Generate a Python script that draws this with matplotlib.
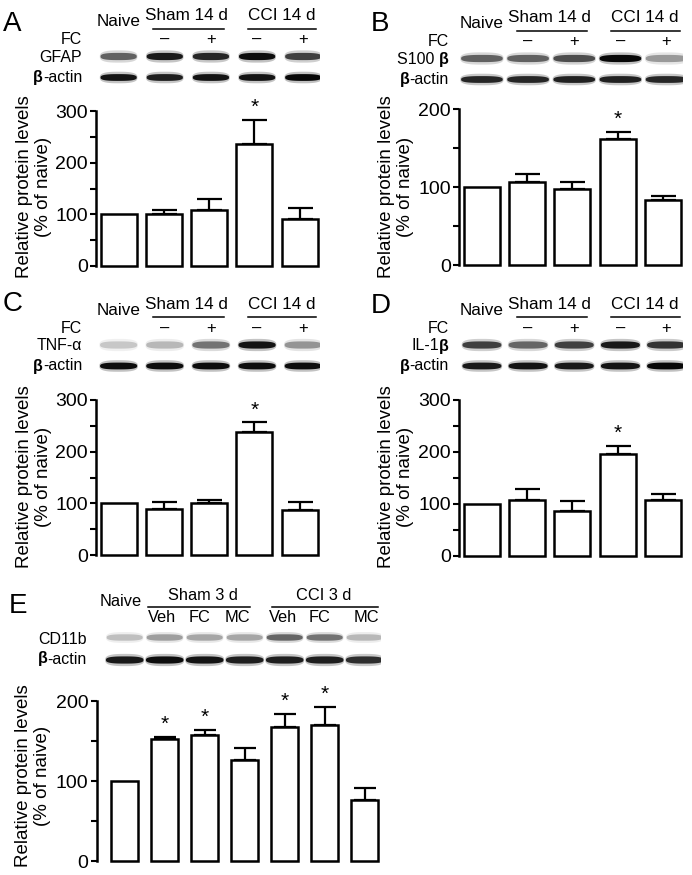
import numpy as np
import matplotlib
matplotlib.use("Agg")
import matplotlib.pyplot as plt
from matplotlib.patches import Polygon
from matplotlib.ticker import MultipleLocator
from matplotlib.transforms import blended_transform_factory

plt.rcParams.update({"font.family": ["Liberation Sans", "DejaVu Sans"], "font.size": 12,
                     "savefig.facecolor": "white"})

W, H = 692, 875

# ---- bar heights (% of naive), error bars drawn upward only
GFAP = [100, 100, 108.5, 236, 91.5]
GFAP_ERR = [0, 8.5, 20.5, 46.5, 20]
S100B = [100, 106.5, 98, 162, 83]
S100B_ERR = [0, 10, 8.5, 8.5, 5]
TNFA = [100, 90, 100, 239, 86.5]
TNFA_ERR = [0, 13, 6.5, 17.5, 15.5]
IL1B = [100, 108, 86, 195, 108]
IL1B_ERR = [0, 20.5, 19, 16, 11]
CD11B = [100, 153, 158, 126, 168, 170.5, 76]
CD11B_ERR = [0, 2.5, 5.5, 15.5, 16, 22, 15.5]
STARS_14D = [3]
STARS_3D = [1, 2, 4, 5]

# ---- blot band darkness per lane (0 blank .. 1 black)
BAND_GFAP = [0.62, 0.9, 0.85, 0.95, 0.75]
BAND_S100B = [0.62, 0.62, 0.7, 0.97, 0.4]
BAND_TNFA = [0.22, 0.28, 0.55, 0.92, 0.42]
BAND_IL1B = [0.75, 0.6, 0.75, 0.9, 0.8]
BAND_CD11B = [0.25, 0.38, 0.35, 0.35, 0.6, 0.55, 0.28]
ACTIN_A = [0.92, 0.88, 0.92, 0.92, 0.97]
ACTIN_B = [0.85, 0.85, 0.87, 0.87, 0.85]
ACTIN_C = [0.95, 0.95, 0.95, 0.95, 0.95]
ACTIN_D = [0.9, 0.92, 0.9, 0.92, 0.97]
ACTIN_E = [0.9, 0.95, 0.92, 0.88, 0.88, 0.88, 0.82]

FC_SIGNS = ["–", "+", "–", "+"]
TREAT_3D = ["Veh", "FC", "MC", "Veh", "FC", "MC"]
TREAT_3D_X = [0.93, 1.88, 2.82, 3.95, 4.86, 6.05]
YLABEL = "Relative protein levels\n(% of naive)"

fig = plt.figure(figsize=(W / 100, H / 100), dpi=100)
_t = np.linspace(0, 2 * np.pi, 80)
BX = np.sign(np.cos(_t)) * np.abs(np.cos(_t)) ** (2 / 2.8)
BY = np.sign(np.sin(_t)) * np.abs(np.sin(_t)) ** (2 / 2.8)


def px(x0, y0, x1, y1):
    return [x0 / W, 1 - y1 / H, (x1 - x0) / W, (y1 - y0) / H]


def bars(box, vals, errs, stars, ymax, xlim, width, cap):
    ax = fig.add_axes(px(*box))
    x = np.arange(len(vals))
    v, e = np.asarray(vals, float), np.asarray(errs, float)
    m = e > 0
    ax.errorbar(x[m], v[m], yerr=[np.zeros(m.sum()), e[m]], fmt="none", ecolor="black",
                elinewidth=1.6, capsize=cap, capthick=1.6, zorder=2)
    ax.bar(x, v, width=width, color="white", edgecolor="black", linewidth=1.8,
           zorder=3, clip_on=False)
    for i in stars:
        ax.annotate("*", (i, v[i] + e[i]), xytext=(0, 5), textcoords="offset points",
                    ha="center", va="baseline", fontsize=15)
    ax.set_xlim(*xlim)
    ax.set_ylim(0, ymax)
    ax.yaxis.set_major_locator(MultipleLocator(100))
    ax.yaxis.set_minor_locator(MultipleLocator(50))
    ax.tick_params(axis="y", which="both", direction="out", length=4.5, width=1.5,
                   labelsize=14, pad=1.5)
    ax.set_xticks([])
    for s in ("top", "right", "bottom"):
        ax.spines[s].set_visible(False)
    ax.spines["left"].set_linewidth(1.8)
    ax.set_facecolor("none")
    return ax


def header(box, xlim):
    ax = fig.add_axes(px(*box))
    ax.set_xlim(*xlim)
    ax.set_ylim(box[3], box[1])
    ax.axis("off")
    return ax


def blot_row(ax, y, dark, step, half, hh):
    for i, d in enumerate(dark):
        g = 1 - d
        xc = i * step
        ax.add_patch(Polygon(np.c_[xc + half * 1.04 * BX, y + hh * 1.7 * BY], closed=True,
                             fc=(g, g, g), ec="none", alpha=0.25))
        ax.add_patch(Polygon(np.c_[xc + half * BX, y + hh * BY], closed=True,
                             fc=(g, g, g), ec="none"))


def row_label(ax, xr, y, parts, size=11.5):
    tr = blended_transform_factory(fig.transFigure, ax.transData)
    prev = None
    for s, bold in reversed(parts):
        kw = dict(ha="right", fontsize=size, fontweight="bold" if bold else "normal")
        if prev is None:
            prev = ax.text(xr / W, y, s, transform=tr, va="center", **kw)
        else:
            prev = ax.annotate(s, xy=(0, 0), xycoords=prev, va="bottom", **kw)


def group_line(ax, x0, x1, y):
    ax.plot([x0, x1], [y, y], color="black", lw=1.1)


def letter(x, y, s):
    fig.text(x / W, 1 - y / H, s, fontsize=20, ha="left", va="baseline")


def ylabel(x, y):
    fig.text(x / W, 1 - y / H, YLABEL, rotation=90, ha="center", va="center",
             multialignment="center", fontsize=13.5, linespacing=1.1)


def panel_14d(oy, name, target, actin, vals, errs, ymax, yb, lab_x, sp_x, dy, bw):
    xl = (-0.5, 4.45)
    ax = header((sp_x, oy, sp_x + 224, oy + 100), xl)
    ax.text(0, oy + 22 + dy, "Naive", ha="center", va="center", fontsize=12.3)
    ax.text(1.5, oy + 16 + dy, "Sham 14 d", ha="center", va="center", fontsize=12.3)
    ax.text(3.6, oy + 16 + dy, "CCI 14 d", ha="center", va="center", fontsize=12.3)
    group_line(ax, 0.77, 2.32, oy + 28.5 + dy)
    group_line(ax, 2.85, 4.37, oy + 28.5 + dy)
    for i, s in enumerate(FC_SIGNS):
        ax.text((i + 1) * 1.02, oy + 39.5 + dy, s, ha="center", va="center", fontsize=12)
    row_label(ax, lab_x, oy + 40 + dy, [("FC", False)])
    row_label(ax, lab_x, oy + 57.5 + dy, name)
    row_label(ax, lab_x, oy + 77.5 + dy, [("β", True), ("-actin", False)])
    blot_row(ax, oy + 56.5 + dy, target, 1.02, bw, 3.6)
    blot_row(ax, oy + 77.5 + dy, actin, 1.02, bw, 3.4)
    return bars((sp_x, yb[0], sp_x + 224, yb[1]), vals, errs, STARS_14D, ymax, xl, 0.795, 9)


# ---- A
letter(3, 31, "A")
panel_14d(0, [("GFAP", False)], BAND_GFAP, ACTIN_A, GFAP, GFAP_ERR, 300,
          (111, 266), 82, 96, 0, 0.4)
ylabel(34, 187)

# ---- B
letter(371, 31, "B")
panel_14d(0, [("S100 ", False), ("β", True)], BAND_S100B, ACTIN_B, S100B, S100B_ERR, 200,
          (109.3, 265), 449, 459.3, 2, 0.46)
ylabel(396, 187)

# ---- C
letter(3, 311, "C")
panel_14d(290, [("TNF-α", False)], BAND_TNFA, ACTIN_C, TNFA, TNFA_ERR, 300,
          (400, 555), 82, 96, -1.5, 0.41)
ylabel(34, 477)

# ---- D
letter(371, 313, "D")
panel_14d(290, [("IL-1", False), ("β", True)], BAND_IL1B, ACTIN_D, IL1B, IL1B_ERR, 300,
          (400, 555.7), 449, 459.3, -1.5, 0.43)
ylabel(396, 477)

# ---- E
letter(9, 613, "E")
xl = (-0.70, 6.40)
axh = header((96.7, 580, 380.7, 690), xl)
axh.text(-0.1, 601, "Naive", ha="center", va="center", fontsize=11.8)
axh.text(1.96, 596, "Sham 3 d", ha="center", va="center", fontsize=11.8)
axh.text(4.97, 596, "CCI 3 d", ha="center", va="center", fontsize=11.8)
group_line(axh, 0.58, 3.13, 606.7)
group_line(axh, 3.68, 6.33, 606.7)
for xt, s in zip(TREAT_3D_X, TREAT_3D):
    axh.text(xt, 617.8, s, ha="center", va="center", fontsize=11.8)
row_label(axh, 87, 639, [("CD11b", False)])
row_label(axh, 87, 659, [("β", True), ("-actin", False)])
blot_row(axh, 637.5, BAND_CD11B, 1.0, 0.45, 3.2)
blot_row(axh, 660, ACTIN_E, 1.0, 0.47, 3.6)
bars((96.7, 701, 380.7, 861), CD11B, CD11B_ERR, STARS_3D, 200, xl, 0.667, 8)
ylabel(33, 776)

fig.savefig("out.png", dpi=100)
